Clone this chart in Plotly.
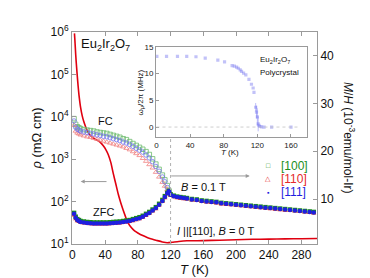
import plotly.graph_objects as go

# ---------------- data ----------------
# Resistivity, I || [110], B = 0 T  (left axis, log)
T_rho = [2.5, 3, 3.5, 4, 4.5, 5, 6, 7, 8, 9, 10, 12, 14, 16, 18, 20, 23, 26, 29, 32,
         35, 38, 41, 44, 47, 50, 53, 56, 59, 62, 65, 68, 72, 76, 80, 86, 92, 98, 104,
         110, 116, 122, 130, 140, 160, 180, 200, 220, 240, 260, 280, 299]
rho = [9.3e5, 6.6e5, 4.47e5, 3.0e5, 2.14e5, 1.58e5, 8.9e4, 5.25e4, 3.3e4, 2.29e4,
       1.66e4, 1.05e4, 7600, 5900, 4800, 4070, 3470, 3090, 2880, 2690,
       2400, 2040, 1660, 1260, 830, 457, 263, 151, 95.5, 63.1, 43.7, 31.6, 24.5, 20.4,
       18.2, 15.8, 14.1, 12.9, 12.0, 11.2, 10.7, 11.0, 11.5, 11.9, 12.0, 12.3, 12.6,
       12.9, 13.0, 13.2, 13.3, 13.5]

# Magnetization M/H (right axis), below T_N
T_lo = [2, 4, 6, 8, 10, 14, 18, 22, 26, 30, 34, 38, 42, 46, 50, 54, 58, 62, 66, 70,
        74, 78, 82, 86, 90, 94, 98, 102, 106, 110, 113, 116, 118]
fc_100 = [26.8, 25.6, 25.1, 24.9, 24.7, 24.5, 24.4, 24.3, 24.2, 24.0, 23.9, 23.8, 23.7,
          23.5, 23.3, 23.1, 22.9, 22.6, 22.4, 22.0, 21.6, 21.2, 20.8, 20.4, 19.9, 19.3,
          18.4, 17.3, 16.2, 15.0, 14.0, 12.8, 11.7]
fc_111 = [26.3, 25.0, 24.6, 24.4, 24.2, 24.0, 23.9, 23.7, 23.6, 23.4, 23.3, 23.1, 23.0,
          22.8, 22.6, 22.4, 22.2, 21.9, 21.7, 21.4, 21.0, 20.6, 20.2, 19.8, 19.2, 18.6,
          17.8, 16.8, 15.8, 14.6, 13.6, 12.4, 11.6]
fc_110 = [25.4, 24.2, 23.8, 23.6, 23.4, 23.2, 23.0, 22.9, 22.7, 22.5, 22.3, 22.1, 21.9,
          21.7, 21.5, 21.3, 21.1, 20.9, 20.6, 20.3, 19.9, 19.5, 19.1, 18.5, 17.9, 17.2,
          16.5, 15.6, 14.6, 13.5, 12.7, 11.9, 11.5]
zfc_100 = [7.1, 6.3, 5.8, 5.6, 5.4, 5.3, 5.2, 5.15, 5.1, 5.1, 5.1, 5.1, 5.1, 5.15, 5.2,
           5.25, 5.3, 5.4, 5.5, 5.6, 5.8, 6.0, 6.2, 6.5, 6.9, 7.3, 7.8, 8.3, 9.0, 9.8,
           10.6, 11.3, 11.7]
zfc_111 = [6.9, 6.1, 5.6, 5.4, 5.2, 5.1, 5.0, 4.95, 4.9, 4.9, 4.9, 4.9, 4.9, 4.95, 5.0,
           5.05, 5.1, 5.2, 5.3, 5.4, 5.6, 5.8, 6.0, 6.3, 6.7, 7.1, 7.6, 8.1, 8.8, 9.6,
           10.4, 11.2, 11.6]
zfc_110 = [6.6, 5.8, 5.4, 5.2, 5.0, 4.9, 4.8, 4.75, 4.7, 4.7, 4.7, 4.7, 4.7, 4.75, 4.8,
           4.85, 4.9, 5.0, 5.1, 5.2, 5.4, 5.6, 5.8, 6.1, 6.5, 6.9, 7.4, 7.9, 8.6, 9.4,
           10.2, 11.0, 11.5]
# above T_N (FC = ZFC)
T_hi = [120, 124, 128, 132, 136, 140, 146, 152, 158, 164, 170, 176, 182, 188, 194, 200,
        206, 212, 218, 224, 230, 236, 242, 248, 254, 260, 266, 272, 278, 284, 290, 295]
hi_100 = [11.0, 10.7, 10.5, 10.4, 10.3, 10.2, 10.0, 9.9, 9.7, 9.6, 9.5, 9.4, 9.2, 9.1,
          9.0, 8.9, 8.8, 8.7, 8.6, 8.5, 8.4, 8.3, 8.2, 8.1, 8.0, 7.9, 7.8, 7.7, 7.6, 7.5,
          7.4, 7.3]
hi_111 = [10.9, 10.6, 10.4, 10.3, 10.2, 10.1, 9.9, 9.8, 9.6, 9.5, 9.4, 9.3, 9.1, 9.0,
          8.9, 8.8, 8.7, 8.6, 8.5, 8.4, 8.3, 8.2, 8.1, 8.0, 7.9, 7.8, 7.7, 7.6, 7.5, 7.4,
          7.3, 7.2]
hi_110 = [10.7, 10.4, 10.2, 10.1, 10.0, 9.9, 9.7, 9.6, 9.4, 9.3, 9.2, 9.1, 8.9, 8.8,
          8.7, 8.6, 8.5, 8.4, 8.3, 8.2, 8.1, 8.0, 7.9, 7.8, 7.7, 7.6, 7.5, 7.4, 7.3, 7.2,
          7.1, 7.0]

# Inset: muon precession frequency
T_mu = [0.5, 12, 25, 36, 47, 58, 73, 81, 90, 92.6, 95.3, 97.3, 99.6, 101.2, 103.6,
        106.3, 110, 113, 115, 116, 118, 119, 120, 121, 122, 123, 125, 128, 137, 160]
f_mu = [13.2, 13.2, 13.2, 13.2, 13.15, 12.9, 12.5, 12.2, 11.5, 11.4, 11.2, 11.0, 10.7,
        10.4, 10.1, 9.75, 8.9, 8.0, 7.3, 6.5, 3.7, 2.8, 1.9, 0.6, 0.3, 0.1, 0.05, 0.0,
        0.0, 0.0]
f_err = [0, 0, 0, 0, 0, 0, 0, 0, 0, 0, 0, 0, 0, 0, 0, 0, 0, 0, 0, 0, 0.8, 1.2, 1.6,
         1.4, 0, 0, 0, 0, 0, 0]

left_ticks = [1e1, 1e2, 1e3, 1e4, 1e5, 1e6]
left_ticktext = ["10<sup>1</sup>", "10<sup>2</sup>", "10<sup>3</sup>", "10<sup>4</sup>",
                 "10<sup>5</sup>", "10<sup>6</sup>"]
x_ticks = [0, 40, 80, 120, 160, 200, 240, 280]
right_ticks = [0, 10, 20, 30, 40]
inset_xticks = [0, 40, 80, 120, 160]
inset_yticks = [0, 5, 10, 15]
legend_labels = ["[100]", "[110]", "[111]"]

# ---------------- styles ----------------
FONT = "Liberation Sans, Arial, sans-serif"
GREEN, RED, BLUE = "#1c8f1c", "#e52a2a", "#1f1fe0"
GREEN_L, RED_L, BLUE_L = "#6cbb6c", "#f08080", "#7474ee"
AX = "#9a9a9a"

fig = go.Figure()

fig.add_trace(go.Scatter(x=T_rho, y=rho, mode="lines", xaxis="x", yaxis="y",
                         line=dict(color="#e00010", width=1.6, shape="spline", smoothing=0.5),
                         showlegend=False))

# FC (open)
for ys, col, sym in [(fc_100, GREEN_L, "square-open"), (fc_110, RED_L, "triangle-up-open"),
                     (fc_111, BLUE_L, "circle-open")]:
    fig.add_trace(go.Scatter(x=T_lo, y=ys, mode="markers", xaxis="x", yaxis="y3",
                             marker=dict(symbol=sym, size=4.5, color=col, line=dict(width=0.8)),
                             showlegend=False))
# ZFC + high T (filled)
for lo, hi, col, sym in [(zfc_100, hi_100, GREEN, "square"), (zfc_110, hi_110, RED, "triangle-up"),
                         (zfc_111, hi_111, BLUE, "circle")]:
    fig.add_trace(go.Scatter(x=T_lo + T_hi, y=lo + hi, mode="markers", xaxis="x", yaxis="y3",
                             marker=dict(symbol=sym, size=4.5, color=col),
                             showlegend=False))

# inset
fig.add_trace(go.Scatter(x=T_mu, y=f_mu, mode="markers", xaxis="x2", yaxis="y2",
                         marker=dict(symbol="square", size=3.2, color="rgba(120,120,240,0.45)"),
                         error_y=dict(type="data", array=f_err, color="rgba(120,120,240,0.6)",
                                      thickness=0.8, width=0),
                         showlegend=False))

tick_font = dict(family=FONT, size=12, color="#111")
fig.update_layout(
    width=370, height=278,
    margin=dict(l=64, r=61, t=24, b=40),
    paper_bgcolor="white", plot_bgcolor="white",
    font=dict(family=FONT, size=12, color="#111"),
    xaxis=dict(domain=[0, 1], range=[-0.5, 299], tickvals=x_ticks, ticks="inside", ticklen=4,
               tickcolor=AX, showline=True, linecolor=AX, linewidth=1, mirror="ticks",
               showgrid=False, zeroline=False, tickfont=tick_font,
               title=dict(text="<i>T</i> (K)", font=dict(family=FONT, size=13), standoff=2),
               anchor="y"),
    yaxis=dict(type="log", range=[1, 6], tickvals=left_ticks, ticktext=left_ticktext,
               ticks="inside", ticklen=4, tickcolor=AX, showline=True, linecolor=AX,
               mirror=True, showgrid=False, zeroline=False, tickfont=tick_font,
               title=dict(text="<i>ρ</i> (mΩ cm)", font=dict(family=FONT, size=13), standoff=6),
               anchor="x"),
    yaxis3=dict(overlaying="y", side="right", anchor="x", range=[0.6, 44.9],
                tickvals=right_ticks, ticks="inside", ticklen=4, tickcolor=AX,
                showline=True, linecolor=AX, showgrid=False, zeroline=False,
                tickfont=tick_font),
    xaxis2=dict(domain=[0.343, 0.959], anchor="y2", range=[-0.5, 179], tickvals=inset_xticks,
                ticks="inside", ticklen=3, tickcolor=AX, showline=True, linecolor=AX,
                mirror=True, showgrid=False, zeroline=False,
                tickfont=dict(family=FONT, size=8, color="#222")),
    yaxis2=dict(domain=[0.505, 0.930], anchor="x2", range=[-1.85, 15], tickvals=inset_yticks,
                ticks="inside", ticklen=3, tickcolor=AX, showline=True, linecolor=AX,
                mirror=True, showgrid=False, zeroline=False,
                tickfont=dict(family=FONT, size=8, color="#222")),
)

# reference lines
fig.add_shape(type="line", xref="x", yref="paper", x0=120, x1=120, y0=0, y1=0.505,
              line=dict(color="#b0b0b0", width=1, dash="dot"))
fig.add_shape(type="line", xref="x2", yref="y2", x0=0, x1=168, y0=0, y1=0,
              line=dict(color="#c0c0c0", width=0.8, dash="dot"))

def px(xp, yp):
    return (xp - 64) / 245.0, (238 - yp) / 214.0

def note(text, xpix, ypix, size=11, xanchor="center", color="#111", angle=0):
    xx, yy = px(xpix, ypix)
    fig.add_annotation(text=text, x=xx, y=yy, xref="paper", yref="paper", showarrow=False,
                       xanchor=xanchor, yanchor="middle", textangle=angle,
                       font=dict(family=FONT, size=size, color=color))

note("Eu<sub>2</sub>Ir<sub>2</sub>O<sub>7</sub>", 71, 37, size=13, xanchor="left")
note("FC", 97, 114, size=11)
note("ZFC", 95, 206, size=11)
note("<i>B</i> = 0.1 T", 195, 180, size=11)
note("<i>I</i> ||[110], <i>B</i> = 0 T", 207, 225, size=11)
note("Eu<sub>2</sub>Ir<sub>2</sub>O<sub>7</sub>", 250, 52, size=8, xanchor="left")
note("Polycrystal", 250, 65, size=8, xanchor="left")
note("<i>T</i> (K)", 222, 146, size=8)
note("ω<sub>μ</sub>/2π (MHz)", 133, 85, size=8, angle=-90)
note("<i>M</i>/<i>H</i> (10<sup>-3</sup>emu/mol-Ir)", 341, 131, size=12, angle=90)

# legend (text glyphs)
for lab, col, glyph, ypix in [(legend_labels[0], GREEN, "□", 159), (legend_labels[1], RED, "△", 172),
                             (legend_labels[2], BLUE, "▪", 186)]:
    note(glyph, 260, ypix, size=7, color=col)
    note(lab, 271, ypix, size=12, xanchor="left", color=col)

# arrows
for head, tail in [((72.7, 175), (100, 175)), ((241.7, 169.3), (161.7, 169.3))]:
    hx, hy = px(*head)
    fig.add_annotation(x=hx, y=hy, xref="paper", yref="paper", ax=tail[0] - head[0], ay=0,
                       showarrow=True, arrowhead=2, arrowsize=0.8, arrowwidth=1,
                       arrowcolor="#9a9a9a", text="")

fig.write_html("out.html")
